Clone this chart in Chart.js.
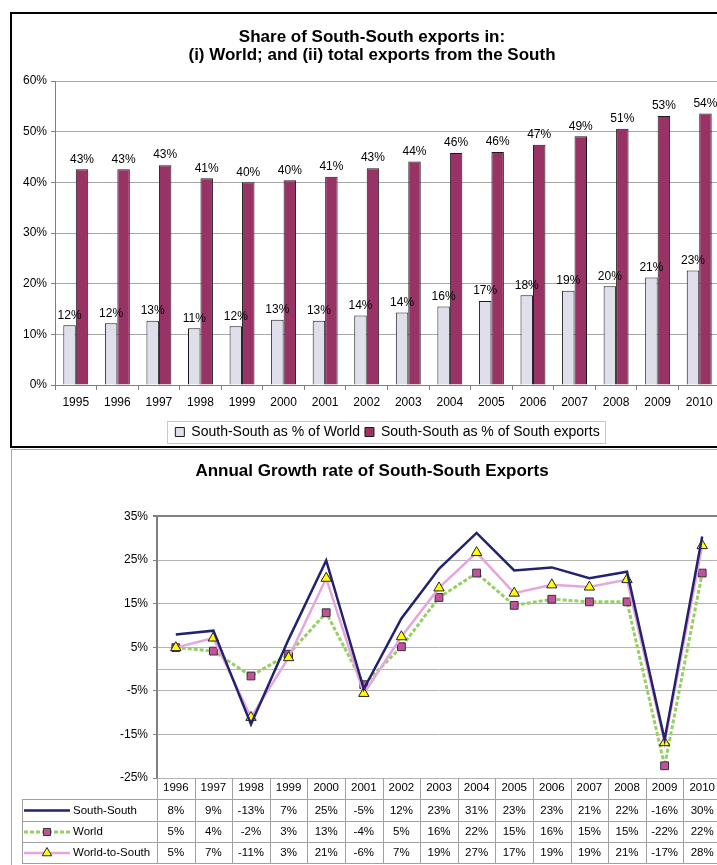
<!DOCTYPE html>
<html><head><meta charset="utf-8">
<script src="https://cdn.jsdelivr.net/npm/chart.js@4.4.1/dist/chart.umd.min.js"></script>
<style>
html,body{margin:0;padding:0;background:#fff;overflow:hidden;width:717px;height:865px;position:relative;}
#box1{position:absolute;left:10px;top:12px;width:780px;height:436px;border:2px solid #000;box-sizing:border-box;}
#box2{position:absolute;left:11px;top:449px;width:780px;height:500px;border:1px solid #A6A6A6;box-sizing:border-box;}
#c1{position:absolute;left:10px;top:13px;}
#c2{position:absolute;left:12px;top:450px;}
</style></head><body>
<div id="box1"></div><div id="box2"></div>
<canvas id="c1" width="724" height="436" style="width:724px;height:436px"></canvas>
<canvas id="c2" width="720" height="415" style="width:720px;height:415px"></canvas>
<script>
// ---- data: chart 1 ----
const years1 = ['1995','1996','1997','1998','1999','2000','2001','2002','2003','2004','2005','2006','2007','2008','2009','2010'];
const shareOfWorld = [11.8,12.2,12.7,11.2,11.6,12.9,12.7,13.7,14.3,15.5,16.6,17.7,18.6,19.5,21.2,22.6];
const shareOfSouthExports = [42.6,42.6,43.4,40.8,40.0,40.4,41.1,42.8,44.1,45.8,46.0,47.4,49.1,50.6,53.1,53.6];
const yTicks1 = [0,10,20,30,40,50,60];
// ---- data: chart 2 ----
const years2 = ['1996','1997','1998','1999','2000','2001','2002','2003','2004','2005','2006','2007','2008','2009','2010'];
const southSouth = [7.9,8.8,-12.7,6.8,24.9,-4.6,11.6,23.0,31.2,22.6,23.3,20.8,22.3,-16.2,30.4];
const world = [4.9,4.1,-1.6,3.4,12.9,-3.6,5.1,16.4,22.0,14.6,16.0,15.4,15.4,-22.2,22.0];
const worldToSouth = [4.9,7.1,-11.1,2.6,20.8,-5.6,7.4,18.6,26.7,17.4,19.3,18.8,20.5,-16.9,28.3];
const yTicks2 = [-25,-15,-5,0,5,15,25,35];

const FONT = "'Liberation Sans', Arial, sans-serif";
Chart.defaults.font.family = FONT;
Chart.defaults.color = '#000';

const barLabels = {
  id:'barLabels',
  afterDatasetsDraw(chart){
    const ctx = chart.ctx; ctx.save();
    ctx.font = '12px ' + FONT; ctx.fillStyle = '#000';
    ctx.textAlign = 'center'; ctx.textBaseline = 'bottom';
    chart.data.datasets.forEach((ds, di) => {
      chart.getDatasetMeta(di).data.forEach((el, i) => {
        ctx.fillText(Math.round(ds.data[i]) + '%', el.x, el.y - 4);
      });
    });
    ctx.restore();
  }
};
const legendBox = {
  id:'legendBox',
  afterDraw(chart){
    const hb = chart.legend.legendHitBoxes; if (!hb || !hb.length) return;
    let l = Infinity, r = -Infinity;
    hb.forEach(h => { l = Math.min(l, h.left); r = Math.max(r, h.left + h.width); });
    const t = hb[0].top, h = hb[0].height;
    const ctx = chart.ctx; ctx.save();
    ctx.strokeStyle = '#C8C8C8'; ctx.lineWidth = 1;
    ctx.strokeRect(Math.round(l - 8) + 0.5, Math.round(t - 4) + 0.5, Math.round(r - l + 14), Math.round(h + 8));
    ctx.restore();
  }
};

new Chart(document.getElementById('c1'), {
  type:'bar',
  data:{ labels: years1, datasets:[
    {label:'South-South as % of World', data:shareOfWorld, backgroundColor:'#DFDFEC', borderColor:'#1a1a1a', borderWidth:1, categoryPercentage:0.6, barPercentage:1},
    {label:'South-South as % of South exports', data:shareOfSouthExports, backgroundColor:'#993366', borderColor:'#1a1a1a', borderWidth:1, categoryPercentage:0.6, barPercentage:1}
  ]},
  options:{
    responsive:false, animation:false, devicePixelRatio:1,
    layout:{padding:0},
    plugins:{
      title:{display:true, text:['Share of South-South exports in:','(i) World; and (ii) total exports from the South'], font:{size:17, weight:'bold', lineHeight:1.06}, color:'#000', padding:{top:15,bottom:17}},
      legend:{position:'bottom', fullSize:false, labels:{font:{size:14}, color:'#000', boxWidth:9, boxHeight:9, padding:5}},
      tooltip:{enabled:false}
    },
    scales:{
      x:{grid:{drawOnChartArea:false, drawTicks:true, tickLength:5, color:'#808080', offset:true}, border:{color:'#808080'},
         ticks:{font:{size:12}, color:'#000', padding:5, maxRotation:0, autoSkip:false},
         afterFit(s){ s.height = 35; }},
      y:{min:0, max:60, afterBuildTicks(s){ s.ticks = yTicks1.map(v => ({value:v})); },
         ticks:{callback:v => v + '%', font:{size:12}, color:'#000', padding:4},
         grid:{color:'#A8A8A8', tickLength:4, tickColor:'#808080'}, border:{color:'#808080'},
         afterFit(s){ s.width = 45; }},
      yR:{type:'linear', position:'right', grid:{display:false}, ticks:{display:false}, border:{display:false}, afterFit(s){ s.width = 14; }}
    }
  },
  plugins:[barLabels, legendBox]
});

const table = {
  id:'table',
  afterDraw(chart){
    const ctx = chart.ctx, xs = chart.scales.x, a = chart.chartArea;
    const half = (xs.getPixelForValue(1) - xs.getPixelForValue(0)) / 2;
    const rowLines = [a.bottom + 21, a.bottom + 43, a.bottom + 64, a.bottom + 85];
    const legL = 10;
    ctx.save();
    ctx.strokeStyle = '#A0A0A0'; ctx.lineWidth = 1;
    ctx.beginPath();
    for (let i = 0; i <= years2.length; i++) {
      const x = Math.round(xs.getPixelForValue(i) - half) + 0.5;
      ctx.moveTo(x, a.bottom); ctx.lineTo(x, rowLines[3]);
    }
    ctx.moveTo(legL + 0.5, rowLines[0]); ctx.lineTo(legL + 0.5, rowLines[3]);
    rowLines.forEach(y => { ctx.moveTo(legL, Math.round(y) + 0.5); ctx.lineTo(a.right, Math.round(y) + 0.5); });
    ctx.stroke();
    ctx.font = '11.5px ' + FONT; ctx.fillStyle = '#000'; ctx.textBaseline = 'middle';
    chart.data.datasets.forEach((ds, di) => {
      const yc = (rowLines[di] + rowLines[di + 1]) / 2 + 0.5;
      ctx.textAlign = 'center';
      ds.data.forEach((v, i) => ctx.fillText(Math.round(v) + '%', xs.getPixelForValue(i), yc));
      // legend key
      ctx.save();
      ctx.strokeStyle = ds.borderColor; ctx.lineWidth = ds.borderWidth;
      ctx.setLineDash(ds.borderDash || []);
      ctx.beginPath(); ctx.moveTo(12, yc); ctx.lineTo(58, yc); ctx.stroke();
      ctx.setLineDash([]);
      if (ds.pointRadius > 0) {
        ctx.fillStyle = ds.pointBackgroundColor; ctx.strokeStyle = ds.pointBorderColor; ctx.lineWidth = 1;
        Chart.helpers.drawPoint(ctx, {pointStyle: ds.pointStyle, radius: ds.pointRadius - 0.5, borderWidth: 1, rotation: 0}, 35, yc);
      }
      ctx.restore();
      ctx.textAlign = 'left';
      ctx.fillText(ds.label, 61, yc);
    });
    ctx.restore();
  }
};

new Chart(document.getElementById('c2'), {
  type:'line',
  data:{ labels: years2, datasets:[
    {label:'South-South', data:southSouth, borderColor:'#22226F', borderWidth:2.5, pointRadius:0, tension:0, order:1},
    {label:'World', data:world, borderColor:'#96D064', borderWidth:3, borderDash:[4,2], pointStyle:'rect', pointRadius:5.5, pointBackgroundColor:'#C4519E', pointBorderColor:'#333333', pointBorderWidth:1, tension:0, order:3},
    {label:'World-to-South', data:worldToSouth, borderColor:'#E4A6DC', borderWidth:2.5, pointStyle:'triangle', pointRadius:6, pointBackgroundColor:'#FFFF00', pointBorderColor:'#222222', pointBorderWidth:1, tension:0, order:2}
  ]},
  options:{
    responsive:false, animation:false, devicePixelRatio:1,
    layout:{padding:0},
    plugins:{
      title:{display:true, text:'Annual Growth rate of South-South Exports', font:{size:17, weight:'bold', lineHeight:1.2}, color:'#000', padding:{top:11,bottom:35}},
      legend:{display:false},
      tooltip:{enabled:false}
    },
    scales:{
      x:{offset:true, grid:{display:false, drawTicks:false, tickLength:0}, border:{display:false},
         ticks:{font:{size:11.5}, color:'#000', padding:3, maxRotation:0, autoSkip:false},
         afterFit(s){ s.height = 87; }},
      y:{min:-25, max:35, afterBuildTicks(s){ s.ticks = yTicks2.map(v => ({value:v})); },
         ticks:{callback:v => v === 0 ? '' : v + '%', font:{size:12}, color:'#000', padding:5},
         grid:{color:c => c.tick && c.tick.value === 35 ? '#808080' : '#B4B4B4',
               lineWidth:c => c.tick && c.tick.value === 35 ? 2 : 1,
               tickLength:4, tickColor:c => c.tick && c.tick.value === 0 ? 'rgba(0,0,0,0)' : '#808080'},
         border:{color:'#808080', width:2},
         afterFit(s){ s.width = 145; }},
      yR:{type:'linear', position:'right', grid:{display:false}, ticks:{display:false}, border:{display:false}, afterFit(s){ s.width = 11; }}
    }
  },
  plugins:[table]
});
</script>
</body></html>
